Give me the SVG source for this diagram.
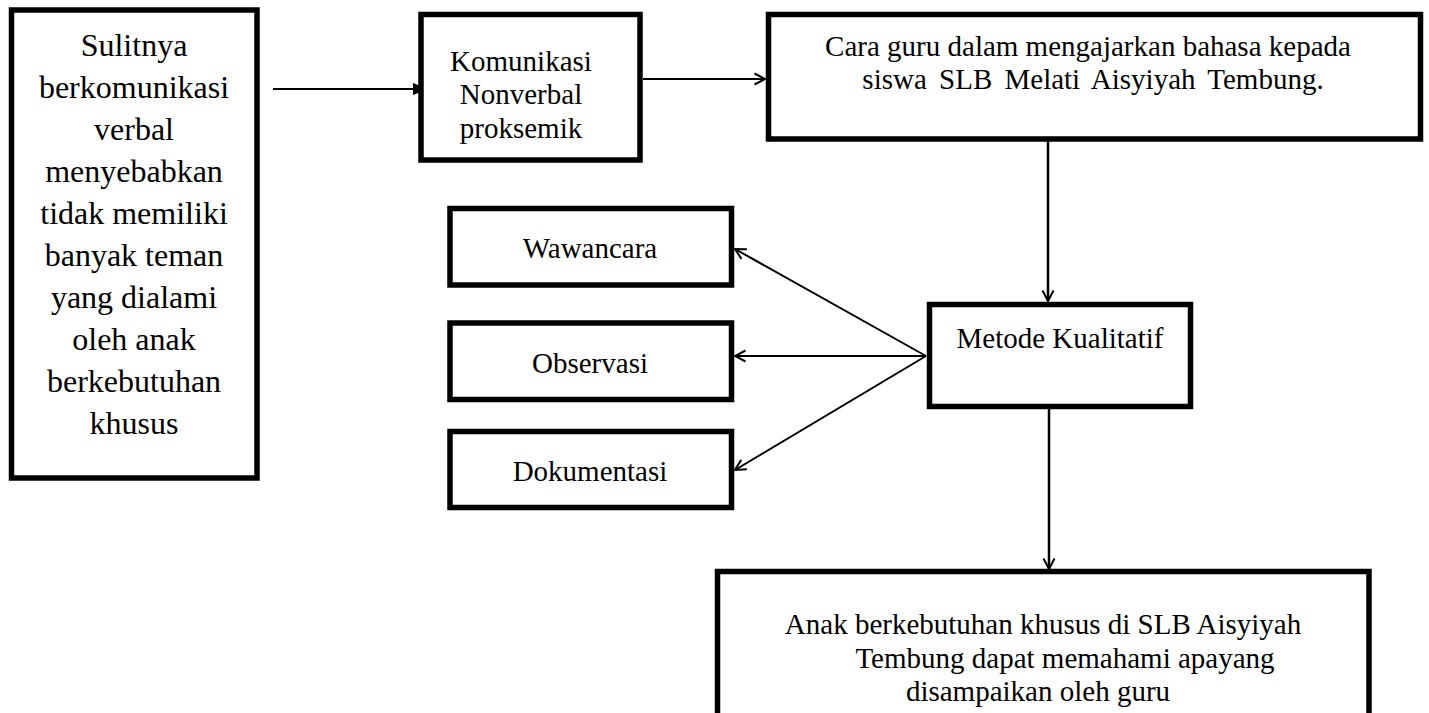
<svg xmlns="http://www.w3.org/2000/svg" width="1429" height="713" viewBox="0 0 1429 713">
<style>
.box{fill:#fff;stroke:#000;stroke-width:5.5}
.t{font-family:"Liberation Serif","Times New Roman",serif;font-size:29px;fill:#000;text-anchor:middle}
.tl{font-size:32px}
.c{fill:none;stroke:#000;stroke-width:2}
.v{stroke-width:2.5}
</style>
<defs>
<marker id="open" markerUnits="userSpaceOnUse" markerWidth="14" markerHeight="14" viewBox="0 0 14 14" refX="12.5" refY="7" orient="auto">
<path d="M2,1.5 L12.5,7 L2,12.5" fill="none" stroke="#000" stroke-width="2"/>
</marker>
<marker id="solid" markerUnits="userSpaceOnUse" markerWidth="16" markerHeight="14" viewBox="0 0 16 14" refX="15" refY="7" orient="auto">
<path d="M0,1 L15,7 L0,13 Z" fill="#000"/>
</marker>
</defs>
<rect width="1429" height="713" fill="#fff"/>
<g id="connectors">
<line class="c" x1="273" y1="89" x2="428" y2="89" stroke-width="1.5" marker-end="url(#solid)"/>
<line class="c" x1="643" y1="79" x2="765" y2="79" stroke-width="1.5" marker-end="url(#open)"/>
<line class="c v" x1="1048" y1="141" x2="1048" y2="301" marker-end="url(#open)"/>
<line class="c v" x1="1049" y1="409" x2="1049" y2="569" marker-end="url(#open)"/>
<line class="c" x1="926" y1="356" x2="735" y2="249" marker-end="url(#open)"/>
<line class="c" x1="926" y1="356" x2="735" y2="356" marker-end="url(#open)"/>
<line class="c" x1="926" y1="356" x2="735" y2="470" marker-end="url(#open)"/>
</g>
<g id="node-sulitnya">
<rect class="box" x="11.5" y="10" width="245.5" height="468"/>
<text class="t tl" x="134" y="56">Sulitnya</text>
<text class="t tl" x="134" y="98">berkomunikasi</text>
<text class="t tl" x="134" y="140">verbal</text>
<text class="t tl" x="134" y="182">menyebabkan</text>
<text class="t tl" x="134" y="224">tidak memiliki</text>
<text class="t tl" x="134" y="266">banyak teman</text>
<text class="t tl" x="134" y="308">yang dialami</text>
<text class="t tl" x="134" y="350">oleh anak</text>
<text class="t tl" x="134" y="392">berkebutuhan</text>
<text class="t tl" x="134" y="434">khusus</text>
</g>
<g id="node-komunikasi">
<rect class="box" x="421" y="14.5" width="219" height="145.5"/>
<text class="t" x="521" y="71">Komunikasi</text>
<text class="t" x="521" y="104">Nonverbal</text>
<text class="t" x="521" y="138">proksemik</text>
</g>
<g id="node-cara">
<rect class="box" x="768.5" y="14.5" width="652" height="124.5"/>
<text class="t" x="1088" y="56">Cara guru dalam mengajarkan bahasa kepada</text>
<text class="t" x="1093" y="89" word-spacing="5">siswa SLB Melati Aisyiyah Tembung.</text>
</g>
<g id="node-wawancara">
<rect class="box" x="450" y="208.5" width="281.5" height="76.5"/>
<text class="t" x="590" y="258">Wawancara</text>
</g>
<g id="node-observasi">
<rect class="box" x="450" y="323" width="281.5" height="76.5"/>
<text class="t" x="590" y="373">Observasi</text>
</g>
<g id="node-dokumentasi">
<rect class="box" x="450" y="431.5" width="281.5" height="76"/>
<text class="t" x="590" y="481">Dokumentasi</text>
</g>
<g id="node-metode">
<rect class="box" x="929.5" y="304.5" width="261" height="102"/>
<text class="t" x="1060" y="348">Metode Kualitatif</text>
</g>
<g id="node-anak">
<rect class="box" x="717.5" y="571.5" width="651.5" height="170"/>
<text class="t" x="1043" y="634">Anak berkebutuhan khusus di SLB Aisyiyah</text>
<text class="t" x="1065" y="668">Tembung dapat memahami apayang</text>
<text class="t" x="1038" y="701">disampaikan oleh guru</text>
</g>
</svg>
